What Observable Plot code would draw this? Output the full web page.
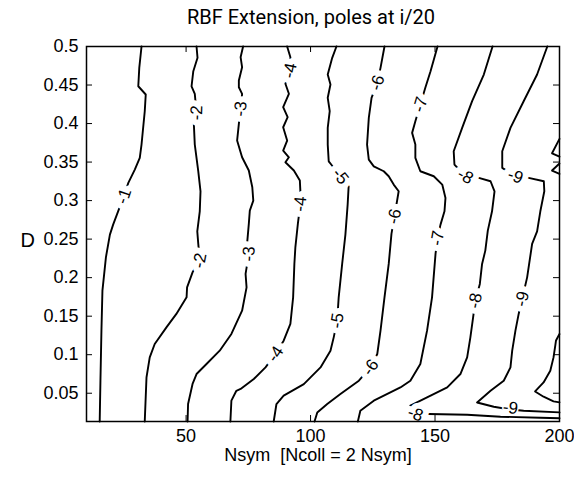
<!DOCTYPE html>
<html><head><meta charset="utf-8">
<script src="https://cdn.jsdelivr.net/npm/d3@7"></script>
<script src="https://cdn.jsdelivr.net/npm/@observablehq/plot@0.6"></script>
<style>
html,body{margin:0;padding:0;background:#fff;}
svg text{white-space:pre;}
</style></head><body><div id="chart"></div>
<script>
const titleText = "RBF Extension, poles at i/20";
const xLabelText = "Nsym  [Ncoll = 2 Nsym]";
const yLabelText = "D";

const xTicks = [50, 100, 150, 200];
const xTickLabels = ["50", "100", "150", "200"];
const yTicks = [0.05, 0.1, 0.15, 0.2, 0.25, 0.3, 0.35, 0.4, 0.45, 0.5];
const yTickLabels = ["0.05", "0.1", "0.15", "0.2", "0.25", "0.3", "0.35", "0.4", "0.45", "0.5"];

// contour lines, [Nsym, D] points
const contourM1 = [[32.1,0.5],[31.2,0.4723],[30.8,0.4484],[33.8,0.4377],[33.4,0.416],[32.1,0.3727],[31.4,0.3555],[29.4,0.3403],[26.8,0.323],[25.0,0.3056],[22.7,0.2861],[20.7,0.2688],[19.4,0.2558],[17.8,0.2264],[16.4,0.1831],[16.0,0.1312],[15.6,0.0662],[15.3,0.0133]];
const contourM2 = [[54.2,0.5],[54.6,0.4853],[52.9,0.4679],[52.2,0.4484],[53.5,0.4386],[54.2,0.4139],[53.1,0.4009],[53.5,0.3727],[54.9,0.338],[55.8,0.3121],[55.5,0.2861],[54.5,0.2601],[54.9,0.2438],[55.5,0.2221],[52.6,0.2069],[50.4,0.1874],[50.2,0.1744],[46.1,0.1529],[42.1,0.1355],[37.4,0.1139],[35.4,0.0965],[34.1,0.0705],[33.4,0.0133]];
const contourM3 = [[72.9,0.5],[71.9,0.4861],[72.5,0.4731],[71.2,0.4558],[71.2,0.4471],[72.5,0.4386],[71.9,0.4191],[71.2,0.3996],[70.5,0.3779],[72.5,0.3562],[75.2,0.339],[76.6,0.3173],[77.0,0.3],[75.6,0.287],[75.2,0.2697],[74.5,0.2438],[75.2,0.2308],[73.9,0.2048],[74.3,0.1874],[72.5,0.1571],[68.2,0.1269],[63.5,0.1052],[58.2,0.0879],[54.2,0.0749],[52.6,0.062],[50.8,0.036],[50.6,0.0133]];
const contourM4 = [[90.6,0.5],[91.9,0.4861],[91.7,0.4688],[89.9,0.4516],[91.3,0.4386],[89.0,0.4212],[90.8,0.4082],[89.0,0.3952],[90.6,0.3779],[89.0,0.3649],[91.3,0.3562],[89.9,0.3497],[93.3,0.339],[95.7,0.326],[95.9,0.313],[95.9,0.2957],[94.9,0.2697],[93.9,0.2394],[93.5,0.2178],[93.0,0.1744],[91.9,0.1399],[89.2,0.1182],[85.9,0.1009],[81.9,0.0835],[77.2,0.0684],[71.9,0.0555],[70.2,0.0532],[68.2,0.0403],[67.8,0.0133]];
const contourM5 = [[110.4,0.5],[108.7,0.4853],[106.9,0.4636],[108.0,0.4506],[106.9,0.4334],[107.7,0.416],[106.9,0.3944],[106.9,0.3727],[107.3,0.351],[108.3,0.3468],[112.0,0.3316],[115.3,0.3186],[114.9,0.2948],[114.0,0.2558],[112.7,0.2178],[111.3,0.1744],[110.7,0.1442],[109.3,0.1225],[108.0,0.1052],[104.0,0.0835],[97.3,0.0619],[89.2,0.0468],[86.3,0.036],[85.2,0.0133]];
const contourM6 = [[129.7,0.5],[128.1,0.4723],[126.8,0.4529],[124.5,0.4334],[123.4,0.4074],[122.7,0.3727],[123.4,0.3532],[125.4,0.3445],[129.4,0.3381],[131.4,0.3316],[133.4,0.3208],[135.4,0.3121],[133.7,0.2796],[132.5,0.2568],[131.4,0.2178],[129.7,0.1744],[128.1,0.1312],[126.8,0.1009],[124.1,0.0835],[119.4,0.0662],[112.0,0.0489],[106.7,0.036],[102.7,0.0251],[101.6,0.0133]];
const contourM7 = [[151.0,0.5],[148.2,0.4679],[146.1,0.4464],[144.1,0.4247],[142.1,0.403],[140.8,0.3879],[142.1,0.3727],[142.1,0.3555],[144.1,0.3381],[149.5,0.3316],[152.9,0.3208],[154.2,0.3035],[153.8,0.2861],[152.2,0.2688],[151.0,0.2513],[150.2,0.2308],[148.8,0.1744],[146.8,0.1312],[144.1,0.0879],[140.1,0.0662],[136.1,0.0575],[125.4,0.0403],[120.0,0.0273],[119.0,0.0133]];
const contourM8 = [[173.1,0.5],[169.6,0.4636],[164.9,0.429],[160.9,0.3944],[157.5,0.364],[157.8,0.3468],[162.2,0.3316],[167.6,0.3295],[172.3,0.3251],[173.9,0.3121],[172.9,0.2861],[171.2,0.261],[170.2,0.2351],[168.9,0.2178],[168.0,0.1918],[166.2,0.1701],[165.3,0.1484],[164.2,0.1225],[162.9,0.0965],[160.2,0.0749],[154.9,0.0575],[146.8,0.0445],[140.1,0.0338],[142.1,0.023],[147.5,0.023],[162.9,0.0221],[176.3,0.0195],[192.3,0.0182],[200,0.0176]];
const contourM9 = [[195.1,0.5],[191.0,0.4636],[185.6,0.429],[180.3,0.3944],[177.0,0.364],[177.0,0.3425],[182.3,0.3316],[187.6,0.3295],[193.7,0.3251],[193.9,0.3121],[192.3,0.2861],[191.0,0.2601],[189.0,0.2438],[187.0,0.2004],[185.0,0.1723],[183.6,0.1529],[182.3,0.1312],[181.0,0.1052],[180.3,0.0835],[177.6,0.0662],[172.3,0.0532],[166.9,0.038],[173.6,0.0325],[180.3,0.0288],[185.6,0.0273],[200,0.0251]];
const contourM10a = [[200,0.3801],[197.0,0.3614],[200,0.3571]];
const contourM10b = [[200,0.3481],[197.0,0.339],[200,0.3347]];
const contourM10c = [[200,0.1269],[198.6,0.1185],[198.3,0.1117],[197.6,0.0965],[196.3,0.0792],[193.6,0.064],[190.2,0.0523],[193.6,0.0455],[197.6,0.0394],[200,0.0381]];

const contourLevels = [-1, -2, -3, -4, -5, -6, -7, -8, -9, -10, -10, -10];
const contourPaths = [contourM1, contourM2, contourM3, contourM4, contourM5, contourM6, contourM7, contourM8, contourM9, contourM10a, contourM10b, contourM10c];

// inline labels
const labelText  = ["-1","-2","-2","-3","-3","-4","-4","-4","-5","-5","-6","-6","-6","-7","-7","-8","-8","-8","-9","-9","-9"];
const labelNsym  = [25.0, 54.2, 55.5, 71.9, 75.2, 91.7, 95.9, 85.9, 112.0, 110.7, 126.8, 133.7, 124.1, 144.1, 151.0, 162.2, 166.2, 142.1, 182.3, 185.0, 180.3];
const labelD     = [0.3056, 0.4139, 0.2221, 0.4191, 0.2308, 0.4688, 0.2957, 0.1009, 0.3316, 0.1442, 0.4529, 0.2796, 0.0835, 0.4247, 0.2513, 0.3316, 0.1701, 0.023, 0.3316, 0.1723, 0.031];
const labelAngle = [-71, -88, -79, -84, -87, -79, -85, -56, 51, -81, -73, -77, -55, -73, -80, 30, -79, 20, 20, -77, 8];
const labelNearAxis = [false,false,false,false,false,false,false,false,false,false,false,false,false,false,false,false,false,false,false,false,true];

const lineRows = [];
contourPaths.forEach((pts, k) => pts.forEach(([x, y]) => lineRows.push({piece: k, level: contourLevels[k], x, y})));
const labelRows = labelText.map((t, i) => ({t, x: labelNsym[i], y: labelD[i], a: labelAngle[i], near: labelNearAxis[i]}));

const font = "'Liberation Sans', Arial, Helvetica, sans-serif";
const W = 574, H = 477, mL = 86, mR = 15, mT = 46, mB = 56, tickLen = 6;
const innerW = W - mL - mR, innerH = H - mT - mB;

const chart = Plot.plot({
  width: W,
  height: H,
  marginLeft: mL,
  marginRight: mR,
  marginTop: mT,
  marginBottom: mB,
  style: {fontFamily: font, background: "white", color: "black", overflow: "visible"},
  x: {domain: [10, 200], label: null},
  y: {domain: [0.0133, 0.5], label: null},
  marks: [
    Plot.line(lineRows, {x: "x", y: "y", z: "piece", stroke: "black", strokeWidth: 1.9, strokeLinejoin: "round", curve: "linear"}),
    Plot.text(labelRows.filter(d => !d.near), {x: "x", y: "y", text: "t", rotate: "a", fontSize: 17, fill: "black", stroke: "white", strokeWidth: 12}),
    Plot.text(labelRows.filter(d => d.near), {x: "x", y: "y", text: "t", rotate: "a", fontSize: 17, fill: "black", stroke: "white", strokeWidth: 3}),
    // inward ticks on all four sides
    Plot.ruleX(xTicks, {x: d => d, insetTop: innerH - tickLen, stroke: "black", strokeWidth: 1}),
    Plot.ruleX(xTicks, {x: d => d, insetBottom: innerH - tickLen, stroke: "black", strokeWidth: 1}),
    Plot.ruleY(yTicks, {y: d => d, insetRight: innerW - tickLen, stroke: "black", strokeWidth: 1}),
    Plot.ruleY(yTicks, {y: d => d, insetLeft: innerW - tickLen, stroke: "black", strokeWidth: 1}),
    Plot.frame({stroke: "black", strokeWidth: 1.5}),
    // tick labels
    Plot.axisX({ticks: xTicks, anchor: "bottom", tickSize: 0, tickPadding: 8, tickFormat: d => xTickLabels[xTicks.indexOf(d)], label: null, fontSize: 18}),
    Plot.axisY({ticks: yTicks, anchor: "left", tickSize: 0, tickPadding: 8, tickFormat: d => yTickLabels[yTicks.indexOf(d)], label: null, fontSize: 18}),
    // title and axis labels
    Plot.text([titleText], {text: d => d, frameAnchor: "top", dx: -12, dy: -29, lineAnchor: "middle", fontSize: 20, fontFamily: "Roboto, 'Liberation Sans', Arial, sans-serif"}),
    Plot.text([xLabelText], {text: d => d, frameAnchor: "bottom", dx: -5, dy: 27, lineAnchor: "top", fontSize: 18}),
    Plot.text([yLabelText], {text: d => d, frameAnchor: "left", dx: -66, dy: 7, fontSize: 20})
  ]
});
document.getElementById("chart").appendChild(chart);
</script></body></html>
